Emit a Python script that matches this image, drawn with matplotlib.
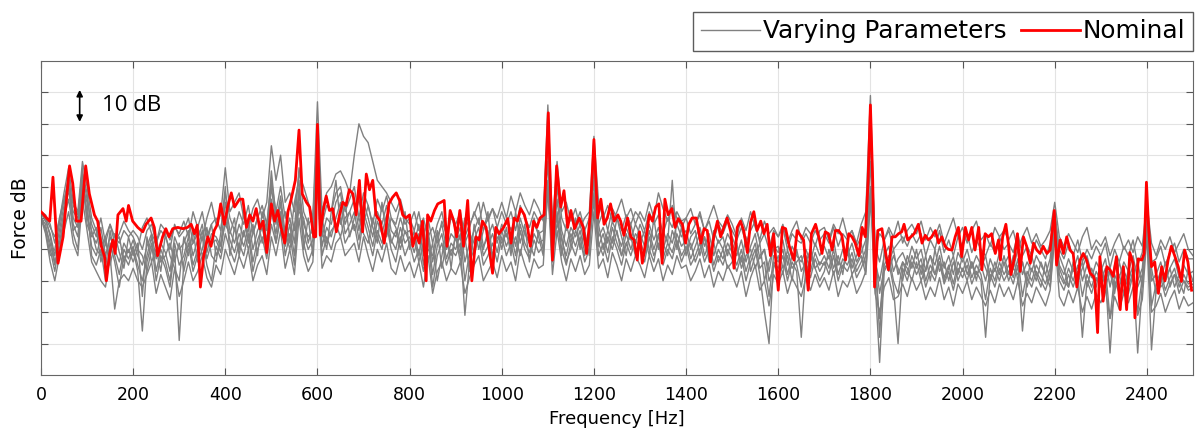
import numpy as np
import matplotlib
matplotlib.use("Agg")
import matplotlib.pyplot as plt

# nominal run (red)
red_freq = [0, 4, 12, 19, 26, 37, 48, 62, 69, 77,
            87, 97, 105, 116, 123, 131, 138, 142, 149, 156,
            161, 167, 178, 185, 190, 199, 210, 221, 228, 239,
            246, 253, 264, 271, 278, 286, 297, 308, 318, 326,
            333, 339, 346, 353, 362, 369, 376, 383, 390, 398,
            405,
            413, 420, 431, 438, 446, 453, 460, 467, 475, 482,
            490, 500, 507, 514, 521, 529, 536, 543, 552, 560,
            567, 576, 583, 592, 596, 600, 606, 612, 619, 626,
            633, 641, 648, 655, 662, 669, 677, 684, 691, 698,
            706, 713, 720, 727, 736, 745, 755, 763, 771, 778,
            785, 792, 800, 807, 814, 821, 828, 836,
            839, 846, 854, 861, 868, 875, 881, 888, 896, 902,
            909, 917, 926, 935, 944, 951, 958, 966, 973, 980,
            987, 994, 1004, 1013, 1020, 1027, 1034, 1041, 1049, 1056,
            1062, 1069, 1076, 1083, 1092, 1101, 1110, 1119, 1128, 1135,
            1143, 1150, 1158, 1168, 1177, 1184, 1192, 1200, 1208, 1215,
            1222, 1229, 1236, 1244, 1252,
            1258, 1265, 1273, 1280, 1287, 1294, 1299, 1305, 1312, 1320,
            1327, 1334, 1341, 1348, 1354, 1361, 1369, 1376, 1383, 1392,
            1399, 1406, 1413, 1422, 1432, 1439, 1446, 1453, 1460, 1468,
            1475, 1482, 1489, 1497, 1504, 1511, 1518, 1525, 1533, 1540,
            1547, 1554, 1562, 1569, 1576, 1583, 1590, 1600, 1609, 1616,
            1624, 1634, 1641, 1648, 1655, 1665, 1672,
            1681, 1688, 1695, 1702, 1709, 1717, 1724, 1731, 1738, 1746,
            1753, 1760, 1767, 1775, 1782, 1789, 1795, 1800, 1805, 1809,
            1816, 1825, 1832, 1839, 1847, 1854, 1861, 1868, 1873, 1881,
            1888, 1895, 1904, 1912, 1919, 1926, 1933, 1941, 1948, 1955,
            1962, 1969, 1977, 1984, 1991, 1998, 2006, 2013, 2020, 2027,
            2035, 2042, 2049, 2056, 2063, 2071, 2078,
            2082, 2087, 2094, 2100, 2105, 2113, 2119, 2125, 2132, 2139,
            2147, 2154, 2161, 2168, 2175, 2183, 2190, 2199, 2204, 2212,
            2219, 2226, 2233, 2240, 2248, 2255, 2262, 2269, 2277, 2284,
            2287, 2293, 2298, 2305, 2313, 2320, 2327, 2334, 2342, 2349,
            2356, 2363, 2370, 2374, 2381, 2389, 2394, 2399, 2404, 2410,
            2417, 2425, 2432, 2439, 2446, 2453, 2461, 2468, 2475, 2482,
            2489, 2497]
red_db = [52, 51.4, 50, 49, 63, 35.6, 44, 66.6, 61, 49,
          49, 66.6, 57.7, 51, 49, 41, 37.7, 30, 38.7, 43,
          38.7, 51, 53, 49, 54, 49, 47, 45.6, 48, 50,
          47, 38, 44, 46.6, 44, 46.6, 47, 46.6, 47, 48,
          45, 47.7, 28, 37.7, 44, 41, 46, 48, 54.5, 48,
          53.5,
          58, 53.5, 56, 56, 47, 51, 49, 53, 46.6, 49,
          39, 54.5, 49, 52.4, 47, 42, 52, 56, 62, 78,
          57.7, 55, 53.5, 44, 44, 79.8, 44.5, 52, 57, 52.4,
          53, 45.6, 51, 55, 54, 59, 57.7, 51, 62, 45.6,
          64, 59, 62, 51, 49, 42, 54.5, 56.6, 58, 55.6,
          51, 50, 51, 41, 45, 42, 49, 30,
          51, 49, 52.4, 54.5, 55, 55.6, 41, 52.4, 49, 44,
          52.4, 41, 55.6, 30, 44, 43, 49, 47, 39.8, 32.4,
          47, 45, 47, 49.8, 42, 50, 49, 53, 51, 47,
          41, 49, 47, 50, 51, 83.5, 36.6, 66.6, 53.5, 58.7,
          47, 52.4, 46.6, 50, 47, 38.7, 51, 75, 50, 56,
          48, 50, 54.5, 49, 51,
          49, 44.5, 50, 44, 43, 36.6, 45.6, 35.6, 42, 51,
          49, 53.5, 54.5, 35.6, 56, 51, 53, 47, 49.8, 48,
          42, 48, 50, 50, 42, 46.6, 46, 36, 44, 49,
          44, 47, 50, 45.6, 34, 47, 49, 46, 39, 48.7,
          52, 46, 49, 45, 48, 38, 45, 27, 47, 46.6,
          41, 36.6, 46, 44.5, 43, 27, 45,
          48, 44, 38.7, 45.6, 45, 39.8, 46, 46, 44.5, 36.6,
          45, 44, 42, 38, 47, 44, 62, 86, 62, 28,
          46, 46.6, 39.8, 33.5, 44, 44, 45, 45.6, 48, 43,
          44, 45, 48, 42, 44.5, 43, 44, 46, 42, 44,
          41, 40, 39.8, 44, 47, 37.7, 47, 43, 47, 39.8,
          47, 33.5, 45, 44, 45, 38.7, 43,
          36.6, 44, 48, 41, 32, 37.7, 45, 33, 44, 41,
          35.6, 42, 39.8, 38.7, 41, 38.7, 39.8, 52.4, 35, 43,
          38.7, 44, 39.8, 38.7, 28, 36.6, 38.7, 36.6, 32.4, 31.4,
          30, 13.5, 37.7, 23.5, 34.5, 33.5, 31.4, 37.7, 20.8, 34.5,
          20.8, 39, 35.6, 18.2, 37, 36.6, 38.7, 61.4, 46, 34.5,
          36, 26, 34.5, 30, 36.6, 41, 37.7, 34.5, 29.8, 39.8,
          36, 27]

# varying parameter runs (grey), estimated every 10 Hz, one row per 100 Hz
gray_freq = np.arange(0, 2501, 10)

run_1 = [51, 50, 47, 44, 49, 58, 66, 55, 52, 68,
         60, 50, 46, 41, 44, 48, 42, 45, 49, 46,
         44, 40, 47, 50, 45, 42, 48, 46, 43, 47,
         45, 49, 44, 52, 47, 43, 50, 55, 48, 51,
         66, 52, 55, 58, 50, 47, 53, 56, 50, 55,
         73, 62, 70, 55, 58, 52, 64, 60, 55, 50,
         87, 52, 58, 60, 64, 65, 62, 58, 70, 80,
         76, 74, 68, 62, 60, 58, 55, 52, 56, 50,
         48, 52, 46, 50, 44, 47, 42, 49, 45, 51,
         46, 43, 50, 47, 52, 48, 55, 49, 53, 50,
         55, 50, 57, 52, 58, 54, 51, 56, 53, 49,
         86, 48, 68, 52, 55, 49, 53, 47, 50, 52,
         76, 55, 50, 54, 49, 52, 56, 50, 53, 48,
         52, 49, 55, 50, 58, 53, 49, 54, 50, 47,
         50, 53, 48, 52, 46, 50, 54, 49, 47, 51,
         48, 44, 50, 46, 52, 47, 43, 49, 45, 47,
         44, 48, 42, 46, 49, 43, 47, 45, 41, 46,
         47, 43, 48, 45, 50, 44, 46, 42, 48, 52,
         89, 40, 45, 43, 47, 44, 49, 42, 46, 48,
         45, 49, 43, 47, 44, 48, 42, 46, 50, 44,
         47, 42, 46, 49, 43, 45, 41, 47, 44, 46,
         43, 46, 40, 44, 47, 42, 45, 41, 43, 46,
         55, 44, 41, 45, 42, 39, 44, 47, 40, 43,
         41, 44, 38, 42, 45, 40, 43, 39, 44, 41,
         55, 42, 38, 43, 40, 44, 39, 42, 45, 40,
         38]

run_2 = [50, 48, 40, 33, 42, 50, 62, 45, 40, 60,
         55, 38, 35, 40, 30, 42, 36, 28, 38, 35,
         40, 33, 14, 36, 42, 30, 38, 34, 28, 40,
         11, 36, 42, 33, 38, 44, 35, 30, 41, 37,
         45, 40, 36, 42, 38, 45, 33, 40, 44, 37,
         48, 42, 52, 38, 45, 35, 55, 42, 36, 40,
         65, 38, 44, 40, 46, 50, 42, 45, 48, 40,
         50, 44, 38, 46, 42, 48, 40, 36, 44, 38,
         42, 36, 40, 33, 44, 28, 38, 42, 35, 40,
         38, 42, 19, 36, 40, 44, 35, 38, 42, 36,
         44, 38, 42, 35, 46, 40, 37, 43, 39, 41,
         62, 36, 52, 40, 35, 42, 38, 44, 36, 40,
         58, 38, 42, 36, 44, 40, 35, 42, 38, 43,
         40, 36, 44, 38, 42, 35, 40, 37, 43, 38,
         41, 35, 38, 42, 36, 40, 33, 38, 35, 40,
         37, 33, 38, 30, 36, 40, 32, 20, 10, 36,
         34, 38, 30, 36, 33, 12, 35, 31, 37, 33,
         36, 32, 38, 30, 35, 33, 37, 31, 34, 38,
         60, 30, 4, 33, 36, 28, 10, 34, 30, 36,
         32, 35, 28, 33, 30, 36, 29, 33, 27, 34,
         31, 35, 29, 33, 30, 12, 32, 28, 34, 30,
         33, 29, 35, 14, 31, 28, 33, 30, 27, 32,
         45, 30, 27, 32, 28, 33, 12, 30, 26, 31,
         28, 32, 7, 30, 26, 31, 28, 33, 7, 29,
         45, 8, 27, 31, 25, 29, 32, 26, 30, 27,
         28]

run_3 = [52, 49, 45, 38, 46, 54, 64, 50, 47, 64,
         58, 45, 42, 47, 38, 44, 40, 36, 42, 39,
         43, 38, 35, 41, 45, 37, 42, 39, 33, 44,
         40, 42, 46, 38, 43, 48, 39, 45, 44, 41,
         55, 46, 42, 48, 44, 50, 40, 46, 49, 43,
         60, 48, 57, 45, 50, 42, 60, 48, 44, 46,
         75, 44, 50, 48, 55, 58, 48, 52, 56, 46,
         55, 50, 44, 52, 48, 54, 46, 44, 50, 45,
         46, 42, 48, 38, 46, 36, 44, 48, 40, 45,
         43, 47, 36, 42, 46, 50, 41, 44, 48, 42,
         48, 44, 47, 41, 50, 45, 42, 48, 45, 46,
         75, 42, 60, 46, 41, 47, 44, 48, 42, 45,
         66, 44, 47, 42, 49, 45, 41, 47, 43, 48,
         45, 41, 48, 43, 47, 40, 45, 42, 48, 44,
         46, 40, 44, 47, 41, 45, 38, 43, 40, 45,
         42, 38, 43, 36, 41, 45, 37, 40, 33, 41,
         39, 43, 35, 41, 38, 36, 40, 36, 42, 38,
         41, 37, 43, 35, 40, 38, 42, 36, 39, 43,
         75, 36, 30, 38, 41, 33, 37, 39, 35, 41,
         37, 40, 33, 38, 35, 41, 34, 38, 32, 39,
         36, 40, 34, 38, 35, 30, 37, 33, 39, 35,
         38, 34, 40, 32, 36, 33, 38, 35, 32, 37,
         50, 35, 32, 37, 33, 38, 30, 35, 31, 36,
         33, 37, 28, 35, 31, 36, 33, 38, 30, 34,
         50, 30, 32, 36, 30, 34, 37, 31, 35, 32,
         33]

run_4 = [49, 47, 42, 35, 44, 52, 60, 48, 44, 62,
         52, 41, 38, 44, 34, 46, 38, 32, 40, 37,
         41, 35, 30, 38, 44, 33, 40, 36, 30, 42,
         35, 38, 44, 35, 40, 46, 37, 42, 43, 39,
         50, 43, 39, 45, 41, 47, 36, 43, 47, 40,
         52, 45, 55, 41, 48, 38, 58, 45, 40, 43,
         70, 41, 47, 44, 50, 55, 45, 48, 52, 43,
         52, 47, 41, 49, 45, 51, 43, 40, 47, 42,
         44, 39, 45, 35, 45, 32, 41, 45, 37, 42,
         40, 45, 30, 39, 43, 47, 38, 41, 45, 39,
         46, 41, 45, 38, 48, 42, 39, 45, 42, 43,
         68, 39, 56, 43, 38, 45, 41, 46, 39, 42,
         62, 41, 45, 39, 47, 42, 38, 45, 40, 45,
         43, 38, 46, 40, 45, 37, 42, 39, 45, 41,
         43, 37, 41, 45, 38, 42, 35, 40, 37, 42,
         39, 35, 40, 33, 38, 42, 34, 36, 25, 38,
         36, 40, 32, 38, 35, 28, 38, 33, 39, 35,
         38, 34, 40, 32, 37, 35, 39, 33, 36, 40,
         68, 33, 18, 35, 38, 30, 26, 36, 32, 38,
         34, 37, 30, 35, 32, 38, 31, 35, 29, 36,
         33, 37, 31, 35, 32, 24, 34, 30, 36, 32,
         35, 31, 37, 25, 33, 30, 35, 32, 29, 34,
         48, 32, 29, 34, 30, 35, 25, 32, 28, 33,
         30, 34, 18, 32, 28, 33, 30, 35, 20, 31,
         48, 22, 29, 33, 27, 31, 34, 28, 32, 29,
         30]

run_5 = [51, 46, 38, 40, 48, 56, 58, 52, 50, 66,
         48, 44, 47, 36, 42, 38, 45, 39, 34, 44,
         38, 42, 25, 44, 36, 40, 33, 45, 38, 34,
         30, 44, 38, 46, 36, 40, 47, 38, 36, 45,
         60, 38, 47, 40, 52, 42, 48, 38, 52, 46,
         65, 50, 48, 52, 42, 55, 62, 40, 50, 38,
         80, 46, 40, 52, 62, 48, 55, 44, 50, 56,
         48, 54, 47, 42, 55, 44, 50, 47, 42, 52,
         40, 46, 38, 48, 36, 42, 30, 38, 46, 34,
         46, 38, 44, 33, 48, 40, 46, 52, 36, 47,
         40, 47, 38, 52, 42, 48, 36, 50, 44, 38,
         82, 45, 50, 38, 48, 42, 50, 40, 46, 38,
         70, 48, 40, 46, 42, 50, 44, 38, 48, 42,
         48, 44, 38, 50, 40, 46, 42, 62, 40, 47,
         38, 44, 46, 38, 44, 36, 46, 42, 44, 38,
         44, 40, 36, 44, 33, 38, 42, 30, 36, 40,
         41, 34, 38, 30, 40, 33, 36, 40, 34, 30,
         33, 40, 34, 38, 32, 42, 34, 38, 42, 34,
         80, 42, 12, 40, 33, 38, 34, 30, 38, 34,
         40, 32, 38, 30, 40, 33, 36, 30, 36, 32,
         38, 32, 36, 30, 38, 34, 30, 36, 32, 38,
         32, 38, 30, 36, 30, 38, 32, 28, 36, 30,
         52, 38, 34, 28, 36, 30, 34, 38, 32, 28,
         36, 28, 33, 26, 36, 30, 26, 32, 36, 28,
         52, 34, 26, 30, 36, 28, 32, 30, 26, 34,
         30]

run_6 = [48, 50, 44, 36, 40, 50, 56, 46, 48, 60,
         50, 46, 40, 38, 44, 35, 42, 44, 36, 40,
         36, 40, 38, 33, 40, 44, 36, 38, 42, 36,
         42, 33, 40, 42, 45, 38, 42, 48, 38, 42,
         48, 45, 50, 38, 46, 40, 45, 50, 42, 48,
         56, 42, 50, 46, 40, 48, 52, 50, 42, 48,
         62, 50, 42, 46, 48, 44, 50, 52, 46, 50,
         45, 42, 50, 44, 40, 48, 42, 46, 40, 46,
         42, 44, 36, 42, 40, 38, 46, 34, 42, 38,
         44, 36, 42, 46, 38, 44, 40, 46, 38, 44,
         42, 45, 40, 44, 38, 46, 42, 38, 46, 40,
         58, 40, 48, 44, 36, 40, 46, 42, 38, 44,
         55, 42, 38, 44, 40, 46, 38, 42, 44, 38,
         42, 46, 40, 36, 44, 42, 38, 46, 42, 36,
         40, 42, 36, 40, 44, 38, 42, 36, 40, 34,
         36, 42, 34, 38, 40, 34, 38, 40, 30, 34,
         38, 32, 40, 34, 36, 38, 32, 38, 34, 36,
         35, 38, 32, 36, 34, 40, 32, 35, 38, 32,
         55, 38, 26, 34, 36, 40, 32, 36, 34, 30,
         36, 30, 34, 38, 32, 36, 30, 34, 38, 30,
         34, 30, 36, 32, 34, 38, 30, 34, 30, 36,
         30, 34, 32, 36, 28, 34, 30, 36, 32, 28,
         46, 34, 30, 28, 34, 32, 36, 28, 34, 30,
         32, 30, 34, 28, 32, 26, 34, 30, 28, 32,
         46, 30, 32, 28, 30, 34, 28, 32, 30, 28,
         29]

run_7 = [52, 51, 48, 42, 50, 56, 62, 54, 51, 64,
         56, 48, 44, 50, 42, 48, 44, 42, 46, 44,
         46, 44, 40, 46, 48, 42, 46, 44, 40, 48,
         44, 46, 50, 42, 47, 52, 44, 48, 50, 46,
         58, 50, 46, 52, 48, 54, 45, 50, 54, 48,
         62, 52, 60, 50, 54, 46, 66, 52, 48, 50,
         78, 48, 54, 52, 58, 60, 52, 56, 60, 50,
         58, 54, 48, 56, 52, 57, 50, 48, 54, 48,
         50, 46, 52, 44, 50, 42, 48, 52, 44, 50,
         48, 52, 44, 48, 51, 55, 46, 50, 53, 47,
         52, 48, 52, 46, 54, 50, 47, 52, 49, 50,
         80, 46, 64, 50, 46, 52, 48, 52, 46, 50,
         70, 48, 52, 46, 53, 50, 46, 51, 48, 52,
         50, 46, 52, 48, 51, 45, 50, 47, 52, 49,
         50, 45, 48, 51, 46, 49, 43, 48, 45, 49,
         46, 43, 47, 42, 46, 49, 42, 45, 40, 46,
         44, 47, 40, 45, 43, 42, 45, 42, 46, 43,
         45, 42, 47, 41, 45, 43, 46, 41, 44, 47,
         82, 41, 36, 43, 46, 40, 42, 44, 41, 45,
         42, 45, 38, 43, 40, 46, 39, 43, 38, 44,
         41, 45, 39, 43, 40, 38, 42, 39, 44, 40,
         42, 39, 45, 38, 41, 38, 43, 40, 37, 42,
         52, 40, 37, 42, 38, 43, 36, 40, 37, 41,
         38, 42, 34, 40, 36, 41, 38, 43, 35, 39,
         53, 36, 37, 41, 35, 39, 42, 36, 40, 37,
         37]

run_8 = [50, 45, 36, 30, 38, 46, 52, 42, 38, 56,
         46, 36, 33, 30, 28, 38, 21, 30, 32, 30,
         34, 30, 28, 32, 36, 26, 32, 28, 24, 34,
         25, 30, 36, 30, 33, 38, 31, 28, 35, 32,
         40, 36, 32, 38, 34, 40, 30, 35, 38, 32,
         44, 38, 46, 34, 40, 32, 50, 38, 33, 36,
         60, 34, 38, 36, 42, 44, 38, 40, 42, 36,
         44, 38, 33, 40, 36, 42, 34, 32, 38, 33,
         36, 31, 36, 28, 38, 26, 33, 36, 30, 34,
         32, 36, 26, 31, 35, 38, 30, 33, 36, 31,
         38, 33, 36, 30, 40, 35, 31, 37, 34, 35,
         60, 32, 46, 36, 30, 37, 33, 38, 32, 35,
         52, 34, 37, 31, 39, 35, 30, 37, 33, 38,
         35, 31, 38, 33, 37, 30, 35, 32, 38, 34,
         35, 30, 33, 37, 31, 35, 28, 33, 30, 35,
         32, 28, 33, 25, 31, 35, 27, 30, 22, 32,
         29, 33, 26, 31, 28, 25, 31, 27, 32, 28,
         31, 27, 33, 25, 30, 28, 32, 26, 29, 33,
         58, 26, 20, 28, 31, 24, 25, 29, 25, 31,
         27, 30, 24, 28, 25, 31, 24, 28, 22, 29,
         26, 30, 24, 28, 25, 22, 27, 23, 29, 25,
         28, 24, 30, 22, 26, 23, 28, 25, 22, 27,
         44, 25, 22, 27, 23, 28, 20, 25, 21, 26,
         23, 27, 18, 25, 21, 26, 23, 28, 19, 24,
         44, 20, 22, 26, 20, 24, 27, 21, 25, 22,
         23]

runs = [run_1, run_2, run_3, run_4, run_5, run_6, run_7, run_8]

fig = plt.figure(figsize=(11.98, 4.37), dpi=100)
ax = fig.add_axes([0.0342, 0.1419, 0.9616, 0.7185])

for i, r in enumerate(runs):
    ax.plot(gray_freq, r, color="#808080", lw=1.0,
            label="Varying Parameters" if i == 0 else None)
ax.plot(red_freq, red_db, color="red", lw=2.0, label="Nominal", zorder=5)

ax.set_xlim(0, 2500)
ax.set_ylim(0, 100)
ax.set_xticks(range(0, 2401, 200))
ax.set_yticks(range(10, 100, 10))
ax.set_yticklabels([])
ax.grid(True, color="#e3e3e3", lw=0.8)
ax.set_axisbelow(True)
ax.tick_params(direction="in", top=True, right=True, length=5,
               color="#555555", labelsize=12.5, pad=8)
for s in ax.spines.values():
    s.set_color("#666666")

ax.set_xlabel("Frequency [Hz]", fontsize=13)
ax.set_ylabel("Force dB", fontsize=13.5, labelpad=0)

# 10 dB scale marker
ax.annotate("", xy=(84, 90.8), xytext=(84, 80.6),
            arrowprops=dict(arrowstyle="<|-|>", color="black", lw=1.2,
                            mutation_scale=9, shrinkA=0, shrinkB=0))
ax.text(132, 85.7, "10 dB", fontsize=16, family="Open Sans", va="center")

leg = fig.legend(loc="upper right", bbox_to_anchor=(0.9958, 0.9725), ncol=2,
                 fontsize=17.8, frameon=True, fancybox=False, edgecolor="#333333",
                 handlelength=2.4, handletextpad=0.1, columnspacing=0.6,
                 borderpad=0.3, borderaxespad=0)
leg.get_frame().set_linewidth(1.0)

fig.savefig("out.png", dpi=100)
